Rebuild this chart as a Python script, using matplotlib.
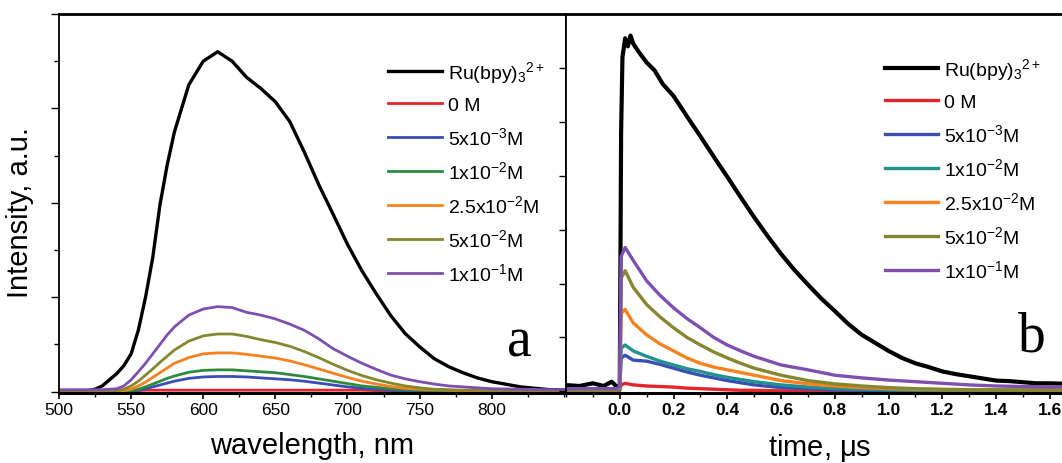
import numpy as np
import matplotlib
matplotlib.use('Agg')
import matplotlib.pyplot as plt
from matplotlib.ticker import MultipleLocator

plt.rcParams['font.family'] = ['Liberation Sans', 'DejaVu Sans']
plt.rcParams['mathtext.fontset'] = 'custom'
plt.rcParams['mathtext.rm'] = 'Liberation Sans'
plt.rcParams['mathtext.it'] = 'Liberation Sans:italic'
plt.rcParams['mathtext.bf'] = 'Liberation Sans:bold'

#%% DATA
labels = [r'Ru(bpy)$_3$$^{2+}$', '0 M', r'5x10$^{-3}$M', r'1x10$^{-2}$M',
          r'2.5x10$^{-2}$M', r'5x10$^{-2}$M', r'1x10$^{-1}$M']
colors_a = ['#000000', '#e3262b', '#3a4db5', '#2e8b3e', '#f5821f', '#868630', '#7f4fb0']
colors_b = ['#000000', '#e3262b', '#3a4db5', '#1f918f', '#f5821f', '#868630', '#7f4fb0']

# (a) steady-state emission spectra
wl = [500, 520, 525, 530, 540, 545, 550, 555, 560, 565,
      570, 575, 580, 590, 600, 610, 620, 630, 640, 650,
      660, 670, 680, 690, 700, 710, 720, 730, 740, 750,
      760, 770, 780, 790, 800, 820, 840, 878]
em_ru = [np.nan, 0.02, 0.05, 0.12, 0.38, 0.55, 0.8, 1.3, 2.0, 2.84,
         3.96, 4.8, 5.5, 6.5, 7.0, 7.2, 7.0, 6.66, 6.42, 6.14,
         5.72, 5.08, 4.39, 3.76, 3.12, 2.56, 2.07, 1.61, 1.23, 0.95,
         0.7, 0.53, 0.4, 0.29, 0.21, 0.1, 0.04, 0.02]
em_0 = [0.01, 0.01, 0.01, 0.01, 0.01, 0.01, 0.01, 0.02, 0.03, 0.03,
        0.03, 0.03, 0.03, 0.03, 0.03, 0.03, 0.03, 0.03, 0.03, 0.03,
        0.03, 0.03, 0.03, 0.03, 0.03, 0.03, 0.02, 0.02, 0.02, 0.01,
        0.01, 0.01, 0.01, 0.01, 0.01, 0.01, 0.01, 0.01]
em_5e3 = [0.02, 0.02, 0.02, 0.02, 0.02, 0.02, 0.02, 0.03, 0.06, 0.1,
          0.14, 0.18, 0.22, 0.28, 0.31, 0.32, 0.32, 0.31, 0.29, 0.27,
          0.25, 0.22, 0.18, 0.14, 0.1, 0.07, 0.05, 0.03, 0.02, 0.02,
          0.02, 0.02, 0.02, 0.02, 0.02, 0.02, 0.02, 0.02]
em_1e2 = [0.02, 0.02, 0.02, 0.02, 0.02, 0.02, 0.02, 0.05, 0.1, 0.16,
          0.22, 0.28, 0.33, 0.41, 0.45, 0.46, 0.46, 0.44, 0.42, 0.4,
          0.36, 0.32, 0.27, 0.22, 0.17, 0.12, 0.09, 0.06, 0.04, 0.03,
          0.02, 0.02, 0.02, 0.02, 0.02, 0.02, 0.02, 0.02]
em_25e2 = [0.02, 0.02, 0.02, 0.02, 0.02, 0.02, 0.05, 0.12, 0.2, 0.3,
           0.4, 0.5, 0.6, 0.72, 0.8, 0.82, 0.82, 0.79, 0.75, 0.71,
           0.65, 0.57, 0.48, 0.39, 0.3, 0.22, 0.16, 0.11, 0.07, 0.05,
           0.04, 0.03, 0.02, 0.02, 0.02, 0.02, 0.02, 0.02]
em_5e2 = [0.02, 0.02, 0.02, 0.02, 0.02, 0.05, 0.12, 0.22, 0.35, 0.48,
          0.62, 0.75, 0.88, 1.07, 1.18, 1.22, 1.22, 1.17, 1.1, 1.04,
          0.96, 0.85, 0.72, 0.58, 0.45, 0.34, 0.25, 0.18, 0.12, 0.08,
          0.05, 0.04, 0.03, 0.03, 0.02, 0.02, 0.02, 0.02]
em_1e1 = [0.04, 0.04, 0.04, 0.04, 0.06, 0.12, 0.25, 0.42, 0.6, 0.8,
          1.0, 1.2, 1.37, 1.62, 1.75, 1.8, 1.78, 1.68, 1.62, 1.54,
          1.43, 1.3, 1.12, 0.91, 0.75, 0.6, 0.47, 0.35, 0.27, 0.21,
          0.16, 0.12, 0.1, 0.08, 0.06, 0.05, 0.04, 0.04]

# (b) emission decays
t_ru = [-0.21, -0.15, -0.1, -0.06, -0.03, -0.01, 0.0, 0.005, 0.01, 0.02,
        0.03, 0.04, 0.05, 0.07, 0.1, 0.13, 0.16, 0.2, 0.25, 0.3,
        0.35, 0.4, 0.45, 0.5, 0.55, 0.6, 0.65, 0.7, 0.75, 0.8,
        0.85, 0.9, 0.95, 1.0, 1.05, 1.1, 1.15, 1.2, 1.25, 1.3,
        1.35, 1.4, 1.45, 1.5, 1.55, 1.6, 1.67]
dec_ru = [0.12, 0.1, 0.15, 0.1, 0.18, 0.08, 0.1, 4.8, 6.2, 6.55,
          6.4, 6.6, 6.45, 6.3, 6.1, 5.95, 5.7, 5.48, 5.1, 4.73,
          4.35, 3.98, 3.6, 3.23, 2.88, 2.55, 2.25, 1.98, 1.72, 1.49,
          1.25, 1.05, 0.9, 0.75, 0.62, 0.52, 0.45, 0.37, 0.32, 0.28,
          0.24, 0.2, 0.19, 0.17, 0.15, 0.15, 0.14]
t_q = [-0.21, -0.01, 0.0, 0.005, 0.02, 0.05, 0.1, 0.15, 0.2, 0.25,
       0.3, 0.35, 0.4, 0.45, 0.5, 0.6, 0.7, 0.8, 0.9, 1.0,
       1.1, 1.2, 1.3, 1.4, 1.5, 1.67]
dec_0 = [0.01, 0.01, 0.02, 0.12, 0.15, 0.12, 0.1, 0.09, 0.08, 0.06,
         0.05, 0.04, 0.03, 0.02, 0.02, 0.01, 0.01, 0.01, 0.01, 0.01,
         0.01, 0.01, 0.01, 0.01, 0.01, 0.01]
dec_5e3 = [0.02, 0.02, 0.04, 0.62, 0.67, 0.58, 0.56, 0.5, 0.43, 0.36,
           0.3, 0.25, 0.2, 0.16, 0.12, 0.07, 0.05, 0.03, 0.02, 0.02,
           0.02, 0.02, 0.02, 0.02, 0.02, 0.02]
dec_1e2 = [0.02, 0.02, 0.05, 0.8, 0.86, 0.75, 0.65, 0.56, 0.49, 0.42,
           0.37, 0.31, 0.26, 0.22, 0.18, 0.12, 0.08, 0.05, 0.04, 0.03,
           0.02, 0.02, 0.02, 0.02, 0.02, 0.02]
dec_25e2 = [0.03, 0.03, 0.06, 1.45, 1.52, 1.27, 1.05, 0.88, 0.75, 0.62,
            0.52, 0.45, 0.4, 0.35, 0.3, 0.2, 0.14, 0.1, 0.07, 0.05,
            0.04, 0.03, 0.03, 0.03, 0.03, 0.03]
dec_5e2 = [0.03, 0.03, 0.08, 2.1, 2.24, 1.93, 1.61, 1.38, 1.18, 1.0,
           0.86, 0.73, 0.62, 0.52, 0.43, 0.3, 0.2, 0.14, 0.1, 0.07,
           0.05, 0.04, 0.03, 0.03, 0.03, 0.03]
dec_1e1 = [0.05, 0.05, 0.1, 2.5, 2.67, 2.43, 2.05, 1.78, 1.55, 1.35,
           1.18, 1.0, 0.86, 0.75, 0.65, 0.49, 0.4, 0.3, 0.25, 0.21,
           0.18, 0.15, 0.12, 0.1, 0.09, 0.08]

wl_ticks = [500, 550, 600, 650, 700, 750, 800]
t_ticks = [0.0, 0.2, 0.4, 0.6, 0.8, 1.0, 1.2, 1.4, 1.6]

#%% PLOT
fig = plt.figure(figsize=(10.62, 4.64), dpi=100)
axa = fig.add_axes([59/1062, 1-394/464, 507/1062, 379/464])
axb = fig.add_axes([566/1062, 1-394/464, 496/1062, 379/464])

spectra = [em_ru, em_0, em_5e3, em_1e2, em_25e2, em_5e2, em_1e1]
for i, y in enumerate(spectra):
    axa.plot(wl, y, color=colors_a[i], lw=2.4 if i == 0 else 2.0, label=labels[i])

decays = [(t_ru, dec_ru), (t_q, dec_0), (t_q, dec_5e3), (t_q, dec_1e2),
          (t_q, dec_25e2), (t_q, dec_5e2), (t_q, dec_1e1)]
for i, (t, y) in enumerate(decays):
    axb.plot(t, y, color=colors_b[i], lw=3.0 if i == 0 else 2.4, label=labels[i])

legend_kw = dict(loc='upper left', frameon=False, fontsize=14,
                 handletextpad=0.3, labelspacing=0.62, borderpad=0, borderaxespad=0)

### Axes (a)
axa.set_xlim(500, 851.5)
axa.set_ylim(-0.03, 8.0)
axa.set_xticks(wl_ticks)
axa.xaxis.set_minor_locator(MultipleLocator(25))
axa.yaxis.set_major_locator(MultipleLocator(2))
axa.yaxis.set_minor_locator(MultipleLocator(1))
axa.set_yticklabels([])
axa.tick_params(axis='x', which='major', direction='out', length=4.5, width=1.2,
                labelsize=12.5, pad=2)
axa.tick_params(axis='x', which='minor', direction='out', length=3, width=1.0)
axa.tick_params(axis='y', which='major', direction='out', length=5.5, width=1.0)
axa.tick_params(axis='y', which='minor', direction='out', length=3.5, width=1.0)
axa.set_xlabel('wavelength, nm', fontsize=21)
axa.xaxis.set_label_coords(0.5, -0.1)
axa.set_ylabel('Intensity, a.u.', fontsize=21)
axa.yaxis.set_label_coords(-0.05, 0.48)
axa.spines['left'].set_linewidth(1.3)
axa.spines['right'].set_linewidth(1.3)
axa.spines['top'].set_linewidth(2.0)
axa.spines['bottom'].set_linewidth(2.2)
axa.text(0.909, 0.135, 'a', transform=axa.transAxes, ha='center', va='center',
         fontsize=40, family='Liberation Serif')
axa.legend(bbox_to_anchor=(0.649, 0.882), handlelength=2.8, **legend_kw)

### Axes (b)
axb.set_xlim(-0.2, 1.645)
axb.set_ylim(-0.03, 7.0)
axb.set_xticks(t_ticks)
axb.set_xticklabels(['%.1f' % v for v in t_ticks], fontweight='bold')
axb.xaxis.set_minor_locator(MultipleLocator(0.1))
axb.yaxis.set_major_locator(MultipleLocator(1))
axb.set_yticklabels([])
axb.tick_params(axis='x', which='major', direction='out', length=4.5, width=1.2,
                labelsize=12.5, pad=2)
axb.tick_params(axis='x', which='minor', direction='out', length=3, width=1.0)
axb.tick_params(axis='y', which='major', direction='out', length=5, width=1.0)
axb.set_xlabel(r'time, $\mathrm{\mu}$s', fontsize=21)
axb.xaxis.set_label_coords(0.511, -0.1)
axb.spines['left'].set_linewidth(1.3)
axb.spines['right'].set_visible(False)
axb.spines['top'].set_linewidth(2.0)
axb.spines['bottom'].set_linewidth(2.2)
axb.text(0.94, 0.15, 'b', transform=axb.transAxes, ha='center', va='center',
         fontsize=40, family='Liberation Serif')
axb.legend(bbox_to_anchor=(0.643, 0.89), handlelength=2.75, **legend_kw)

plt.savefig('out.png', dpi=100)
